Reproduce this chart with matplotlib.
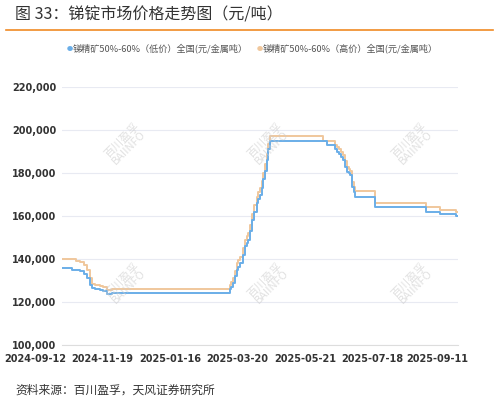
import matplotlib
matplotlib.use("Agg")
import matplotlib.pyplot as plt
import numpy as np

plt.rcParams['font.family'] = ['Noto Sans CJK SC', 'DejaVu Sans']

# x as fraction of the date span (step breakpoints)
low_x = [0.0, 0.025, 0.046, 0.055, 0.063, 0.071, 0.076, 0.084, 0.097, 0.105, 0.113, 0.118, 0.126,
         0.42, 0.424, 0.428, 0.433, 0.437, 0.441, 0.445, 0.45, 0.456, 0.462, 0.466, 0.47, 0.474, 0.479, 0.485,
         0.492, 0.496, 0.5, 0.504, 0.508, 0.513, 0.517, 0.521, 0.525,
         0.655, 0.67, 0.685, 0.69, 0.695, 0.7, 0.705, 0.71, 0.715, 0.72, 0.724, 0.728, 0.733, 0.737, 0.74,
         0.786, 0.79, 0.916, 0.92, 0.95, 0.954, 0.99, 0.994, 1.0]
low_v = [136000, 135000, 134500, 133000, 131000, 128000, 126500, 126000, 125600, 125000, 123500, 123500, 124200,
         124200, 126000, 127000, 128800, 132000, 135000, 136500, 138000, 142000, 146000, 147500, 149000, 153000, 158000, 162000,
         166000, 168000, 170000, 173000, 177000, 181000, 186000, 191000, 195000,
         195000, 193000, 193000, 191000, 190000, 189000, 187500, 186000, 183000, 180600, 179800, 179000, 173700, 171000, 169000,
         169000, 164000, 164000, 162000, 162000, 161000, 161000, 160000, 160000]
high_x = [0.0, 0.025, 0.035, 0.046, 0.055, 0.063, 0.071, 0.076, 0.084, 0.097, 0.105, 0.113, 0.118, 0.126,
          0.42, 0.424, 0.428, 0.433, 0.437, 0.441, 0.445, 0.45, 0.456, 0.462, 0.466, 0.47, 0.474, 0.479, 0.485,
          0.492, 0.496, 0.5, 0.504, 0.508, 0.513, 0.517, 0.521, 0.525,
          0.655, 0.66, 0.685, 0.69, 0.695, 0.7, 0.705, 0.71, 0.715, 0.72, 0.724, 0.728, 0.733, 0.737, 0.74,
          0.786, 0.79, 0.916, 0.92, 0.95, 0.954, 0.99, 0.994, 1.0]
high_v = [140000, 140000, 139000, 138500, 137000, 135000, 131000, 128500, 128000, 127500, 127000, 125500, 125500, 126000,
          126000, 128000, 129500, 131000, 134500, 138000, 139500, 141000, 145000, 149000, 150500, 152000, 156000, 161000, 165000,
          169000, 171000, 173000, 176500, 180000, 184000, 189000, 193500, 197000,
          197000, 195000, 195000, 193000, 192000, 191000, 190000, 188500, 185500, 183000, 182000, 181000, 176000, 173500, 171500,
          171500, 166000, 166000, 164000, 164000, 163000, 163000, 162000, 162000]
tick_labels = ['2024-09-12', '2024-11-19', '2025-01-16', '2025-03-20', '2025-05-21', '2025-07-18', '2025-09-11']
tick_pos = [-0.068, 0.101, 0.273, 0.442, 0.614, 0.783, 0.947]
yticks = [100000, 120000, 140000, 160000, 180000, 200000, 220000]

fig = plt.figure(figsize=(4.99, 4.03), dpi=100)
ax = fig.add_axes([0.124, 0.144, 0.794, 0.64])
c_low, c_high = '#6aaee8', '#f0c79c'
ax.step(high_x, high_v, where='post', color=c_high, lw=1.4)
ax.step(low_x, low_v, where='post', color=c_low, lw=1.4)
ax.set_xlim(0, 1)
ax.set_ylim(100000, 220000)
ax.set_yticks(yticks)
ax.set_yticklabels([f'{v:,}' for v in yticks], fontsize=7, fontweight='bold', color='#333333',
                   family=['DejaVu Sans'])
ax.set_xticks([])
for p, l in zip(tick_pos, tick_labels):
    ax.text(p, -0.035, l, transform=ax.get_xaxis_transform(), ha='center', va='top',
            fontsize=7, fontweight='bold', color='#333333', clip_on=False, family=['DejaVu Sans'])
ax.grid(axis='y', color='#e8eaf2', lw=0.8)
ax.tick_params(axis='y', length=0, pad=4)
for s in ax.spines.values():
    s.set_visible(False)
ax.spines['bottom'].set_visible(True)
ax.spines['bottom'].set_color('#dddddd')

# watermarks
for wx in [0.16, 0.52, 0.885]:
    for wy in [0.78, 0.24]:
        ax.text(wx, wy, '百川盈孚\nBAIINFO', transform=ax.transAxes, rotation=45, ha='center', va='center',
                fontsize=8, color='#cccccc', alpha=0.6, linespacing=0.9)

fig.text(0.03, 0.962, '图 33：锑锭市场价格走势图（元/吨）', fontsize=11.5, fontweight='medium', color='#333333', va='center')
fig.add_artist(plt.Line2D([0.012, 0.988], [0.925, 0.925], color='#f08a24', lw=1.2))
# legend
fig.text(0.133, 0.878, '●', color=c_low, fontsize=4.5, va='center')
fig.text(0.145, 0.878, '锑精矿50%-60%（低价）全国(元/金属吨）', fontsize=6.6, color='#555555', va='center')
fig.text(0.514, 0.878, '●', color=c_high, fontsize=4.5, va='center')
fig.text(0.526, 0.878, '锑精矿50%-60%（高价）全国(元/金属吨）', fontsize=6.6, color='#555555', va='center')
fig.text(0.03, 0.032, '资料来源：百川盈孚，天风证券研究所', fontsize=8.5, color='#333333', va='center')
fig.savefig('out.png', dpi=100)
